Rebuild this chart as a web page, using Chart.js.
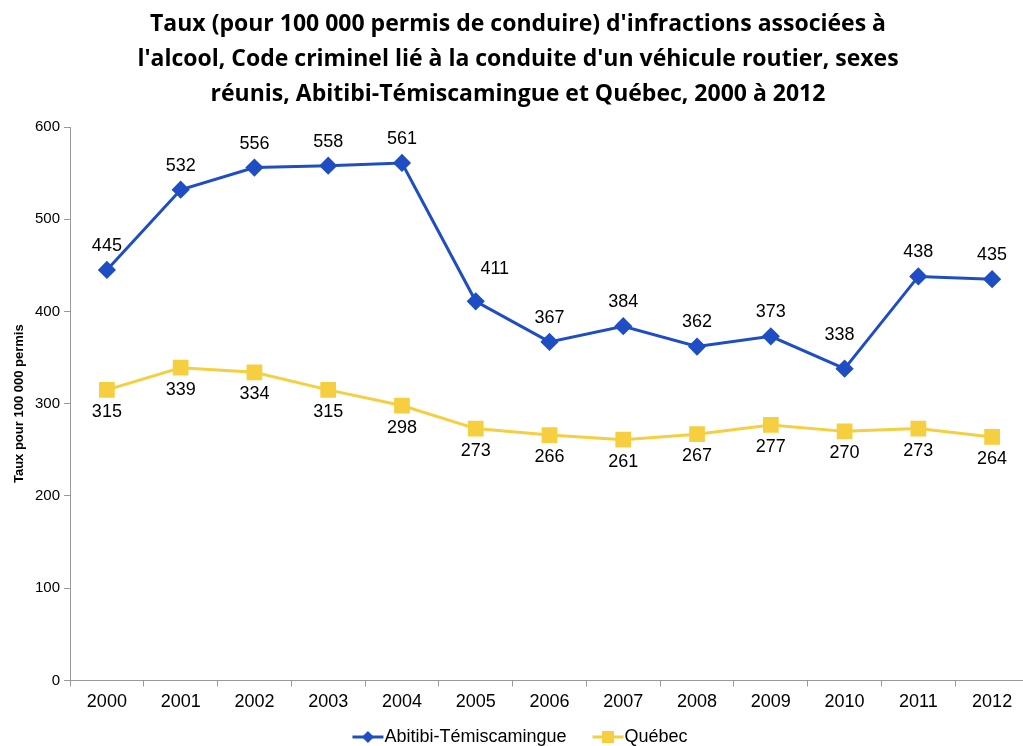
<!DOCTYPE html>
<html><head><meta charset="utf-8">
<script src="https://cdn.jsdelivr.net/npm/chart.js@4/dist/chart.umd.min.js"></script>
<style>html,body{margin:0;padding:0;background:#fff;overflow:hidden}#wrap{width:1023px;height:746px;overflow:hidden}</style>
</head><body><div id="wrap"><canvas id="c" width="1041" height="746"></canvas></div>
<script>
const years = ['2000','2001','2002','2003','2004','2005','2006','2007','2008','2009','2010','2011','2012'];
const abitibi = [445,532,556,558,561,411,367,384,362,373,338,438,435];
const quebec = [315,339,334,315,298,273,266,261,267,277,270,273,264];
const titleLines = ["Taux (pour 100 000 permis de conduire) d'infractions associées à","l'alcool, Code criminel lié à la conduite d'un véhicule routier, sexes","réunis, Abitibi-Témiscamingue et Québec, 2000 à 2012"];
const yTicks = [0,100,200,300,400,500,600];

const BLUE = '#1F4EC4', YEL = '#F5CF3F';
const FONT = '"Liberation Sans", Arial, sans-serif';

const titlePlugin = {
  id:'customTitle',
  afterDraw(chart){
    const ctx = chart.ctx;
    ctx.save(); ctx.font = 'bold 23px "Open Sans", sans-serif'; ctx.fillStyle = '#000'; ctx.textAlign='center'; ctx.textBaseline='middle';
    titleLines.forEach((t,k)=>ctx.fillText(t, 518, 24 + k*35));
    ctx.restore();
  }
};
const labelPlugin = {
  id:'vlabels',
  afterDatasetsDraw(chart){
    const ctx = chart.ctx;
    ctx.save(); ctx.font = '18px ' + FONT; ctx.fillStyle = '#000'; ctx.textAlign='center'; ctx.textBaseline='middle';
    chart.data.datasets.forEach((ds,i)=>{
      const meta = chart.getDatasetMeta(i);
      meta.data.forEach((pt,j)=>{
        let dx = 0, dy = i===0 ? -24 : 22;
        if (i===0 && j===5){ dx = 19; dy = -32; }
        if (i===0 && j===10){ dx = -5; dy = -34; }
        ctx.fillText(String(ds.data[j]), pt.x+dx, pt.y+dy);
      });
    });
    ctx.restore();
  }
};
const legendPlugin = {
  id:'customLegend',
  afterDraw(chart){
    const ctx = chart.ctx;
    ctx.save(); ctx.font = '18px ' + FONT; ctx.textBaseline='middle'; ctx.textAlign='left';
    const y = 737, iconW = 31, gapText = 1, gapItem = 26;
    const items = chart.data.datasets.map((ds,i)=>({ds, i, w: iconW + gapText + ctx.measureText(ds.label).width}));
    const total = items.reduce((a,b)=>a+b.w,0) + gapItem*(items.length-1);
    let x = 520 - total/2;
    items.forEach(it=>{
      const c = it.ds.borderColor;
      ctx.strokeStyle = c; ctx.lineWidth = 3; ctx.beginPath(); ctx.moveTo(x,y); ctx.lineTo(x+iconW,y); ctx.stroke();
      ctx.fillStyle = c; ctx.beginPath();
      const cx = x + iconW/2;
      if (it.i===0){ ctx.moveTo(cx,y-6); ctx.lineTo(cx+6,y); ctx.lineTo(cx,y+6); ctx.lineTo(cx-6,y); ctx.closePath(); }
      else { ctx.rect(cx-6,y-6,12,12); }
      ctx.fill();
      ctx.fillStyle = '#000';
      ctx.fillText(it.ds.label, x + iconW + gapText, y);
      x += it.w + gapItem;
    });
    ctx.restore();
  }
};
new Chart(document.getElementById('c'),{
  type:'line',
  data:{labels:years,datasets:[
    {label:'Abitibi-Témiscamingue',data:abitibi,borderColor:BLUE,backgroundColor:BLUE,borderWidth:3,pointStyle:'rectRot',pointRadius:7,pointHoverRadius:7,tension:0},
    {label:'Québec',data:quebec,borderColor:YEL,backgroundColor:YEL,borderWidth:3,pointStyle:'rect',pointRadius:9,pointHoverRadius:9,tension:0}
  ]},
  options:{
    responsive:false,animation:false,
    layout:{padding:{left:8,right:2,top:127,bottom:28}},
    plugins:{
      title:{display:false},
      legend:{display:false},
      tooltip:{enabled:false}
    },
    scales:{
      x:{offset:true,grid:{offset:true,drawOnChartArea:false,tickLength:6,color:'#999'},border:{color:'#999'},ticks:{color:'#000',font:{family:FONT,size:18},padding:5}},
      y:{min:0,max:600,afterFit(s){s.width=62;},afterBuildTicks(s){s.ticks=yTicks.map(v=>({value:v}));},grid:{drawOnChartArea:false,tickLength:6,color:'#999'},border:{color:'#999'},
        ticks:{color:'#000',font:{family:FONT,size:15},padding:4},
        title:{display:true,text:'Taux pour 100 000 permis',color:'#000',font:{family:FONT,size:13,weight:'bold'},padding:{bottom:6}}}
    }
  },
  plugins:[labelPlugin, titlePlugin, legendPlugin]
});
</script></body></html>
